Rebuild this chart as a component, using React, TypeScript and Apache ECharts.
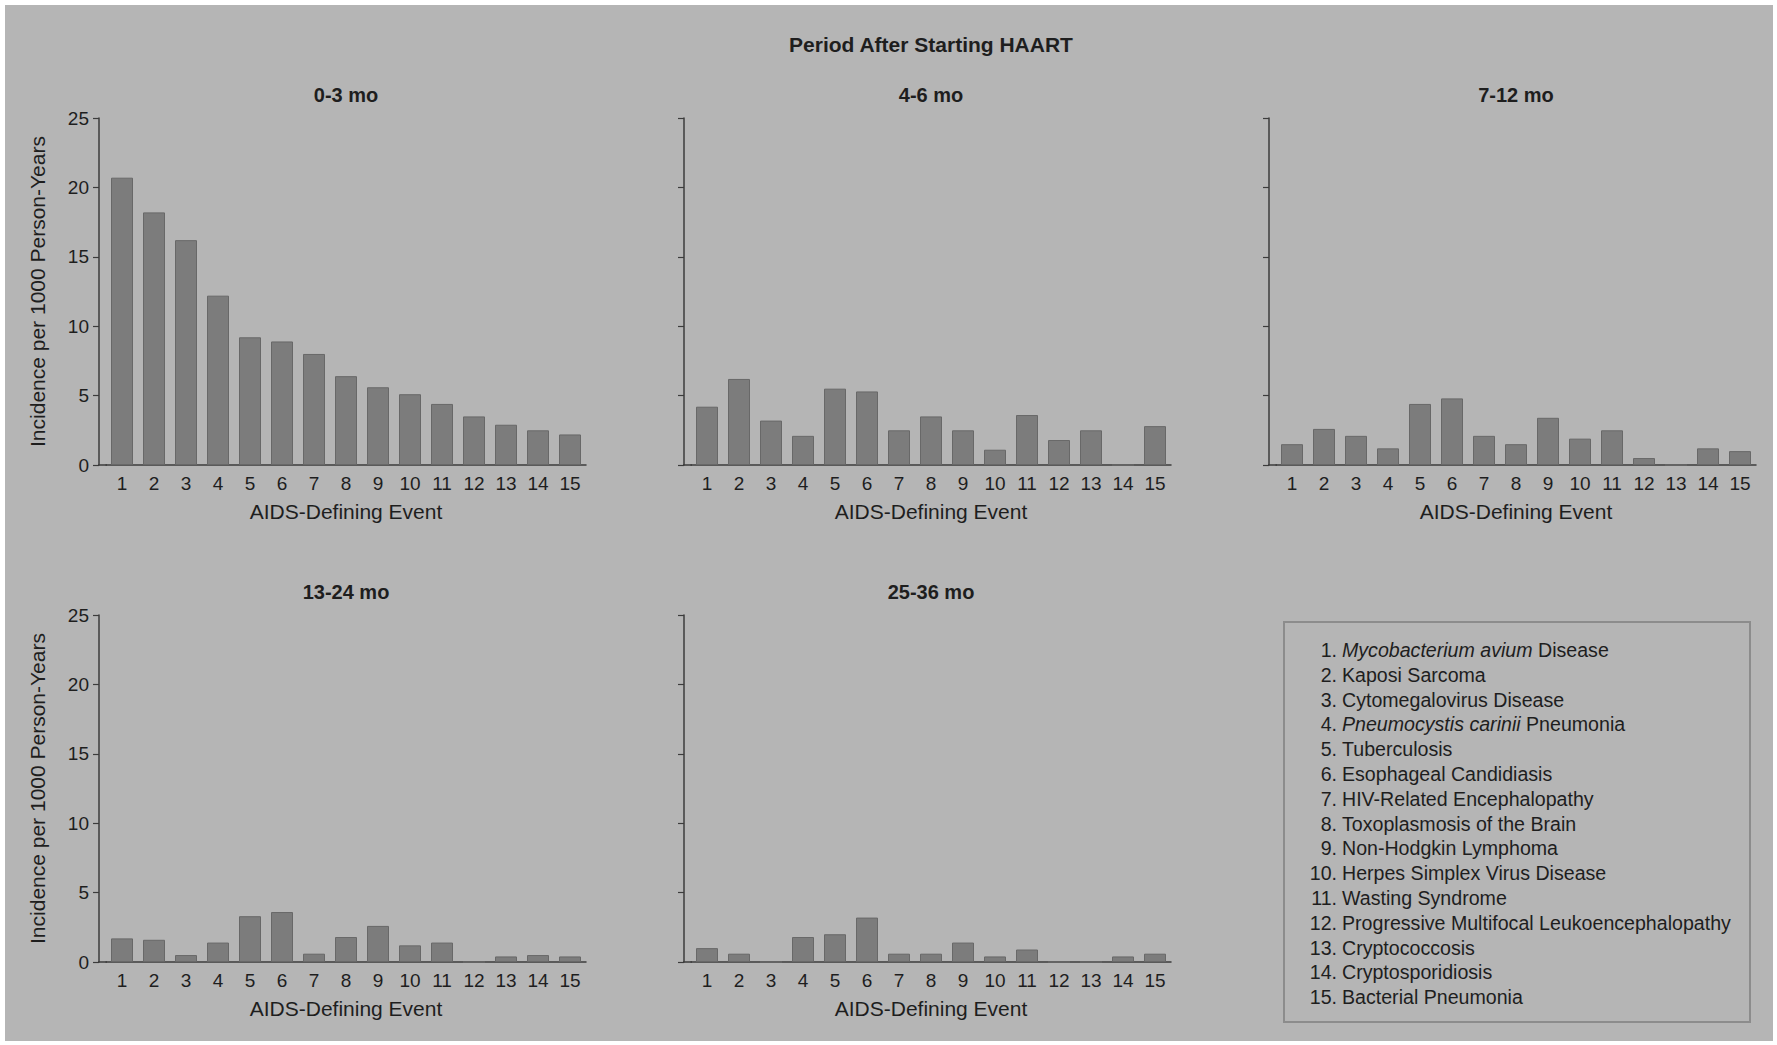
import React, { useEffect, useRef } from "react";
import * as echarts from "echarts";

const categories = ["1", "2", "3", "4", "5", "6", "7", "8", "9", "10", "11", "12", "13", "14", "15"];
const yTicks = { min: 0, max: 25, interval: 5 };

const inc0to3 = [20.7, 18.2, 16.2, 12.2, 9.2, 8.9, 8.0, 6.4, 5.6, 5.1, 4.4, 3.5, 2.9, 2.5, 2.2];
const inc4to6 = [4.2, 6.2, 3.2, 2.1, 5.5, 5.3, 2.5, 3.5, 2.5, 1.1, 3.6, 1.8, 2.5, 0, 2.8];
const inc7to12 = [1.5, 2.6, 2.1, 1.2, 4.4, 4.8, 2.1, 1.5, 3.4, 1.9, 2.5, 0.5, 0, 1.2, 1.0];
const inc13to24 = [1.7, 1.6, 0.5, 1.4, 3.3, 3.6, 0.6, 1.8, 2.6, 1.2, 1.4, 0, 0.4, 0.5, 0.4];
const inc25to36 = [1.0, 0.6, 0, 1.8, 2.0, 3.2, 0.6, 0.6, 1.4, 0.4, 0.9, 0, 0, 0.4, 0.6];

const periodTitles = ["0-3 mo", "4-6 mo", "7-12 mo", "13-24 mo", "25-36 mo"];
const periodData = [inc0to3, inc4to6, inc7to12, inc13to24, inc25to36];

const mainTitle = "Period After Starting HAART";
const yName = "Incidence per 1000 Person-Years";
const xName = "AIDS-Defining Event";

const legendItalic = ["Mycobacterium avium", "", "", "Pneumocystis carinii", "", "", "", "", "", "", "", "", "", "", ""];
const legendRest = [
  " Disease",
  "Kaposi Sarcoma",
  "Cytomegalovirus Disease",
  " Pneumonia",
  "Tuberculosis",
  "Esophageal Candidiasis",
  "HIV-Related Encephalopathy",
  "Toxoplasmosis of the Brain",
  "Non-Hodgkin Lymphoma",
  "Herpes Simplex Virus Disease",
  "Wasting Syndrome",
  "Progressive Multifocal Leukoencephalopathy",
  "Cryptococcosis",
  "Cryptosporidiosis",
  "Bacterial Pneumonia",
];

const FONT = "'Liberation Sans Narrow', 'Liberation Sans', Arial, sans-serif";
const TXT = "#1e1e1e";
const AXIS = "#3c3c3c";
const BG = "#b5b5b5";

const COLS = [106, 691, 1276];
const ROWS = [118, 615];
const GW = 480;
const GH = 347;
const YOFF = 7;

export default function App() {
  const ref = useRef<HTMLDivElement>(null);
  useEffect(() => {
    document.body.style.margin = "0";
    const chart = echarts.init(ref.current!, null, { renderer: "svg" });
    const grids: any[] = [];
    const xAxes: any[] = [];
    const yAxes: any[] = [];
    const series: any[] = [];
    const graphics: any[] = [
      { type: "rect", z: -10, shape: { x: 5, y: 5, width: 1768, height: 1036 }, style: { fill: BG } },
      {
        type: "text", x: COLS[1] + GW / 2, y: 44,
        style: { text: mainTitle, fontFamily: FONT, fontSize: 21, fontWeight: "bold", fill: TXT, align: "center", verticalAlign: "middle" },
      },
    ];
    periodData.forEach((data, i) => {
      const c = i % 3;
      const r = Math.floor(i / 3);
      const showLabels = c === 0;
      grids.push({ left: COLS[c], top: ROWS[r], width: GW, height: GH });
      xAxes.push({
        gridIndex: i,
        type: "category",
        data: categories,
        axisTick: { show: false },
        axisLine: { lineStyle: { color: AXIS, width: 1.5 } },
        axisLabel: { color: TXT, fontSize: 19, fontFamily: FONT, margin: 9 },
        name: xName,
        nameLocation: "middle",
        nameGap: 36,
        nameTextStyle: { color: TXT, fontSize: 21, fontFamily: FONT },
      });
      yAxes.push({
        gridIndex: i,
        type: "value",
        min: yTicks.min,
        max: yTicks.max,
        interval: yTicks.interval,
        offset: YOFF,
        axisLine: { show: true, lineStyle: { color: AXIS, width: 1.5 } },
        axisTick: { show: true, length: 6, lineStyle: { color: AXIS, width: 1.2 } },
        splitLine: { show: false },
        axisLabel: { show: showLabels, color: TXT, fontSize: 19, fontFamily: FONT, margin: 10 },
        name: showLabels ? yName : "",
        nameLocation: "middle",
        nameGap: 51,
        nameRotate: 90,
        nameTextStyle: { color: TXT, fontSize: 21, fontFamily: FONT },
      });
      series.push({
        type: "bar",
        xAxisIndex: i,
        yAxisIndex: i,
        data,
        barWidth: 22,
        itemStyle: { color: "#7c7c7c", borderColor: "#686868", borderWidth: 1 },
      });
      graphics.push({
        type: "line",
        shape: { x1: COLS[c] - YOFF - 1, y1: ROWS[r] + GH, x2: COLS[c] + 1, y2: ROWS[r] + GH },
        style: { stroke: AXIS, lineWidth: 1.5 },
      });
      graphics.push({
        type: "text", x: COLS[c] + GW / 2, y: r === 0 ? 95 : 592,
        style: { text: periodTitles[i], fontFamily: FONT, fontSize: 20, fontWeight: "bold", fill: TXT, align: "center", verticalAlign: "middle" },
      });
    });
    graphics.push({
      type: "rect",
      shape: { x: 1284, y: 622, width: 466, height: 400 },
      style: { fill: "none", stroke: "#8c8c8c", lineWidth: 2 },
    });
    legendRest.forEach((rest, i) => {
      const y = 650 + i * 24.8;
      graphics.push({
        type: "text", x: 1337, y,
        style: { text: `${i + 1}.`, fontFamily: FONT, fontSize: 19.6, fill: TXT, align: "right", verticalAlign: "middle" },
      });
      const it = legendItalic[i];
      graphics.push({
        type: "text", x: 1342, y,
        style: {
          text: it ? `{i|${it}}${rest}` : rest,
          rich: { i: { fontStyle: "italic", fontFamily: FONT, fontSize: 19.6, fill: TXT } },
          fontFamily: FONT, fontSize: 19.6, fill: TXT, align: "left", verticalAlign: "middle",
        },
      });
    });
    chart.setOption({
      animation: false,
      backgroundColor: "#ffffff",
      grid: grids,
      xAxis: xAxes,
      yAxis: yAxes,
      series,
      graphic: graphics,
    });
    return () => chart.dispose();
  }, []);
  return <div ref={ref} style={{ width: 1777, height: 1045 }} />;
}
